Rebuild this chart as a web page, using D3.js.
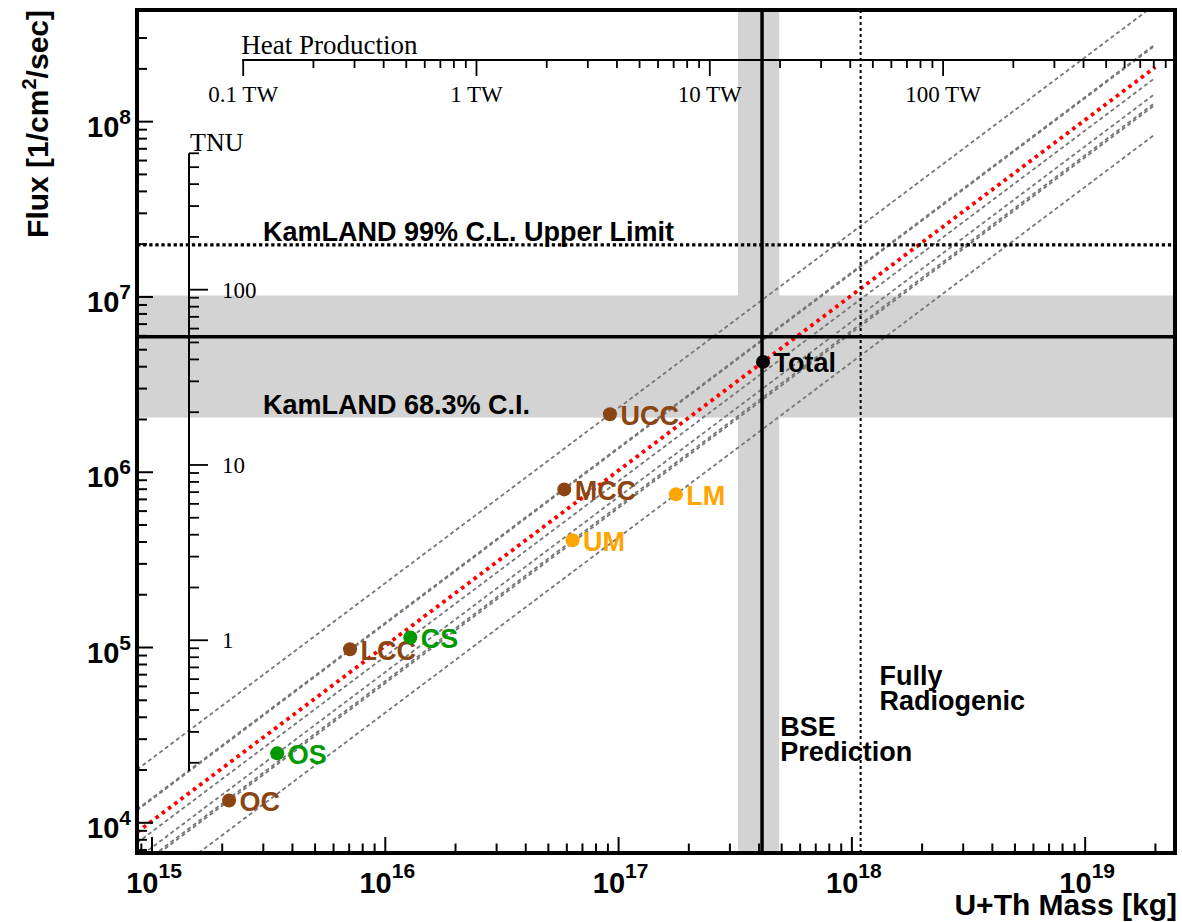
<!DOCTYPE html>
<html><head><meta charset="utf-8">
<script src="https://cdn.jsdelivr.net/npm/d3@7"></script>
<style>body{margin:0;background:#fff;} svg{display:block;}</style>
</head><body>
<svg id="chart" width="1182" height="922"></svg>
<script>
// ---------------- data ----------------
const components     = ["OC", "OS", "LCC", "CS", "MCC", "UM", "UCC", "LM", "Total"];
const componentMass  = [2.14e15, 3.44e15, 7.06e15, 1.28e16, 5.85e16, 6.35e16, 9.18e16, 1.76e17, 4.16e17]; // kg
const componentFlux  = [1.34e4, 2.49e4, 9.77e4, 1.14e5, 7.98e5, 4.09e5, 2.14e6, 7.48e5, 4.26e6];        // 1/cm2/s
const componentGroup = ["crust", "sediment", "crust", "sediment", "crust", "mantle", "crust", "mantle", "total"];
const lineMassRange  = [1e14, 2e19];

const kamlandFlux       = 5.93e6;
const kamlandFluxBand   = [2.05e6, 1.02e7];
const kamlandUpperLimit = 1.98e7;
const bseMass           = 4.12e17;
const bseMassBand       = [3.25e17, 4.88e17];
const fullyRadiogenicMass = 1.09e18;

const massTickExps = [15, 16, 17, 18, 19];
const fluxTickExps = [4, 5, 6, 7, 8];
const heatTicks       = [0.1, 1, 10, 100];
const heatTickLabels  = ["0.1 TW", "1 TW", "10 TW", "100 TW"];
const tnuTicks        = [1, 10, 100];
const tnuTickLabels   = ["1", "10", "100"];
const massPerTW  = 2.46e16;   // kg of U+Th per TW
const fluxPerTNU = 1.1e5;     // 1/cm2/s per TNU
const tnuRange   = [0.18, 600];

const groupColor = {crust: "#8B4513", sediment: "#009900", mantle: "#FFA500", total: "#000000"};

// ---------------- layout ----------------
const frame = {left: 137, top: 10, right: 1175, bottom: 853};
const svg = d3.select("#chart");
const SANS = "'Liberation Sans', Arial, Helvetica, sans-serif";
const SERIF = "'Liberation Serif', 'Times New Roman', serif";

const x = d3.scaleLog().domain([Math.pow(10, 14.9357), Math.pow(10, 19.385)]).range([frame.left, frame.right]);
const y = d3.scaleLog().domain([Math.pow(10, 3.8277), Math.pow(10, 8.637)]).range([frame.bottom, frame.top]);
const xHeat = v => x(v * massPerTW);
const yTnu = v => y(v * fluxPerTNU);

function logTicks(lo, hi) {
  const out = [];
  for (let n = Math.floor(Math.log10(lo)) - 1; n <= Math.ceil(Math.log10(hi)); n++) {
    for (let k = 1; k <= 9; k++) {
      const v = k * Math.pow(10, n);
      if (v >= lo * 0.9999 && v <= hi * 1.0001) out.push({v, major: k === 1});
    }
  }
  return out;
}

svg.append("defs").append("clipPath").attr("id", "plotclip")
  .append("rect").attr("x", frame.left).attr("y", frame.top)
  .attr("width", frame.right - frame.left).attr("height", frame.bottom - frame.top);

const plot = svg.append("g").attr("clip-path", "url(#plotclip)");

// bands
plot.append("rect")
  .attr("x", frame.left).attr("width", frame.right - frame.left)
  .attr("y", y(kamlandFluxBand[1])).attr("height", y(kamlandFluxBand[0]) - y(kamlandFluxBand[1]))
  .attr("fill", "#d3d3d3");
plot.append("rect")
  .attr("x", x(bseMassBand[0])).attr("width", x(bseMassBand[1]) - x(bseMassBand[0]))
  .attr("y", frame.top).attr("height", frame.bottom - frame.top)
  .attr("fill", "#d3d3d3");

// component lines (flux proportional to mass)
const lineGen = d3.line().x(d => x(d[0])).y(d => y(d[1]));
const lines = components.map((c, i) => {
  const r = componentFlux[i] / componentMass[i];
  return {name: c, group: componentGroup[i], pts: lineMassRange.map(m => [m, m * r])};
});
plot.selectAll("path.comp").data(lines.filter(l => l.group !== "total")).enter()
  .append("path").attr("class", "comp")
  .attr("d", d => lineGen(d.pts))
  .attr("fill", "none").attr("stroke", "#777777").attr("stroke-width", 1.8)
  .attr("stroke-dasharray", "4 3");
plot.selectAll("path.tot").data(lines.filter(l => l.group === "total")).enter()
  .append("path").attr("class", "tot")
  .attr("d", d => lineGen(d.pts))
  .attr("fill", "none").attr("stroke", "#ff0000").attr("stroke-width", 3.8)
  .attr("stroke-dasharray", "3.6 4.2");

// KamLAND lines
plot.append("line").attr("x1", frame.left).attr("x2", frame.right)
  .attr("y1", y(kamlandUpperLimit)).attr("y2", y(kamlandUpperLimit))
  .attr("stroke", "#000").attr("stroke-width", 3.3).attr("stroke-dasharray", "3.3 2.8");
plot.append("line").attr("x1", frame.left).attr("x2", frame.right)
  .attr("y1", y(kamlandFlux)).attr("y2", y(kamlandFlux))
  .attr("stroke", "#000").attr("stroke-width", 3.5);
plot.append("line").attr("x1", x(bseMass)).attr("x2", x(bseMass))
  .attr("y1", frame.top).attr("y2", frame.bottom)
  .attr("stroke", "#000").attr("stroke-width", 3.5);
plot.append("line").attr("x1", x(fullyRadiogenicMass)).attr("x2", x(fullyRadiogenicMass))
  .attr("y1", frame.top).attr("y2", frame.bottom)
  .attr("stroke", "#000").attr("stroke-width", 2).attr("stroke-dasharray", "3 3");

// ---------------- heat production axis ----------------
const hg = svg.append("g");
const heatLo = heatTicks[0], heatHi = x.invert(frame.right) / massPerTW;
hg.append("line").attr("x1", xHeat(heatLo) - 1).attr("x2", frame.right)
  .attr("y1", 60).attr("y2", 60).attr("stroke", "#000").attr("stroke-width", 1.8);
hg.selectAll("line.ht").data(logTicks(heatLo, heatHi)).enter().append("line").attr("class", "ht")
  .attr("x1", d => xHeat(d.v)).attr("x2", d => xHeat(d.v))
  .attr("y1", 60).attr("y2", d => d.major ? 76 : 68)
  .attr("stroke", "#000").attr("stroke-width", 1.8);
hg.selectAll("text.hl").data(heatTicks).enter().append("text").attr("class", "hl")
  .attr("x", d => xHeat(d)).attr("y", 102).attr("text-anchor", "middle")
  .attr("font-family", SERIF).attr("font-size", 23)
  .text((d, i) => heatTickLabels[i]);
hg.append("text").attr("x", xHeat(heatLo) - 2).attr("y", 54)
  .attr("font-family", SERIF).attr("font-size", 27).text("Heat Production");

// ---------------- TNU axis ----------------
const tg = svg.append("g");
const tnuX = 189;
tg.append("line").attr("x1", tnuX).attr("x2", tnuX)
  .attr("y1", yTnu(tnuRange[0])).attr("y2", yTnu(tnuRange[1]))
  .attr("stroke", "#000").attr("stroke-width", 2);
tg.selectAll("line.tt").data(logTicks(0.2, tnuRange[1])).enter().append("line").attr("class", "tt")
  .attr("x1", tnuX).attr("x2", d => d.major ? tnuX + 19 : tnuX + 10)
  .attr("y1", d => yTnu(d.v)).attr("y2", d => yTnu(d.v))
  .attr("stroke", "#000").attr("stroke-width", 1.8);
tg.selectAll("text.tl").data(tnuTicks).enter().append("text").attr("class", "tl")
  .attr("x", tnuX + 33).attr("y", d => yTnu(d) + 8)
  .attr("font-family", SERIF).attr("font-size", 23)
  .text((d, i) => tnuTickLabels[i]);
tg.append("text").attr("x", tnuX + 1).attr("y", yTnu(tnuRange[1]) - 2)
  .attr("font-family", SERIF).attr("font-size", 26).text("TNU");

// ---------------- annotations ----------------
const ann = svg.append("g").attr("font-family", SANS).attr("font-weight", "bold").attr("font-size", 27).attr("fill", "#000");
ann.append("text").attr("x", 263).attr("y", y(kamlandUpperLimit) - 4).text("KamLAND 99% C.L. Upper Limit");
ann.append("text").attr("x", 263).attr("y", y(kamlandFluxBand[0]) - 4).text("KamLAND 68.3% C.I.");
ann.append("text").attr("x", x(bseMassBand[1]) + 1).attr("y", 736).text("BSE");
ann.append("text").attr("x", x(bseMassBand[1]) + 1).attr("y", 761).text("Prediction");
ann.append("text").attr("x", x(fullyRadiogenicMass) + 19).attr("y", 685).text("Fully");
ann.append("text").attr("x", x(fullyRadiogenicMass) + 19).attr("y", 710).text("Radiogenic");

// ---------------- points ----------------
const pg = svg.append("g");
components.forEach((c, i) => {
  const px = x(componentMass[i]), py = y(componentFlux[i]);
  const col = groupColor[componentGroup[i]];
  pg.append("circle").attr("cx", px).attr("cy", py).attr("r", 7).attr("fill", col);
  pg.append("text").attr("x", px + 10.5).attr("y", py + 10.5)
    .attr("font-family", SANS).attr("font-weight", "bold").attr("font-size", 27)
    .attr("fill", col).text(c);
});

// ---------------- frame axes ----------------
const ag = svg.append("g");
const xLo = x.domain()[0], xHi = x.domain()[1];
ag.selectAll("line.xt").data(logTicks(xLo, xHi).filter(d => x(d.v) > frame.left + 3 && x(d.v) < frame.right - 3))
  .enter().append("line").attr("class", "xt")
  .attr("x1", d => x(d.v)).attr("x2", d => x(d.v))
  .attr("y1", frame.bottom).attr("y2", d => d.major ? frame.bottom - 16 : frame.bottom - 9.5)
  .attr("stroke", "#000").attr("stroke-width", 2);
const yLo = y.domain()[0], yHi = y.domain()[1];
ag.selectAll("line.yt").data(logTicks(yLo, yHi).filter(d => y(d.v) > frame.top + 8 && y(d.v) < frame.bottom - 2))
  .enter().append("line").attr("class", "yt")
  .attr("x1", frame.left).attr("x2", d => d.major ? frame.left + 16 : frame.left + 10)
  .attr("y1", d => y(d.v)).attr("y2", d => y(d.v))
  .attr("stroke", "#000").attr("stroke-width", 2);

ag.append("rect").attr("x", frame.left).attr("y", frame.top)
  .attr("width", frame.right - frame.left).attr("height", frame.bottom - frame.top)
  .attr("fill", "none").attr("stroke", "#000").attr("stroke-width", 4);

// tick labels
const xl = ag.selectAll("text.xl").data(massTickExps).enter().append("text").attr("class", "xl")
  .attr("x", d => x(Math.pow(10, d)) + 2).attr("y", 893).attr("text-anchor", "middle")
  .attr("font-family", SANS).attr("font-weight", "bold").attr("font-size", 29);
xl.append("tspan").text("10");
xl.append("tspan").attr("font-size", 21).attr("dy", -15).text(d => d);

const yl = ag.selectAll("text.yl").data(fluxTickExps).enter().append("text").attr("class", "yl")
  .attr("x", 131).attr("y", d => y(Math.pow(10, d)) + 15).attr("text-anchor", "end")
  .attr("font-family", SANS).attr("font-weight", "bold").attr("font-size", 29);
yl.append("tspan").text("10");
yl.append("tspan").attr("font-size", 21).attr("dy", -13).text(d => d);

// axis titles
ag.append("text").attr("x", 1177).attr("y", 915).attr("text-anchor", "end")
  .attr("font-family", SANS).attr("font-weight", "bold").attr("font-size", 30)
  .text("U+Th Mass [kg]");
const yt = ag.append("text").attr("transform", "translate(48," + frame.top + ") rotate(-90)")
  .attr("text-anchor", "end")
  .attr("font-family", SANS).attr("font-weight", "bold").attr("font-size", 30);
yt.append("tspan").text("Flux [1/cm");
yt.append("tspan").attr("font-size", 20).attr("dy", -12).text("2");
yt.append("tspan").attr("dy", 12).text("/sec]");
</script>
</body></html>
